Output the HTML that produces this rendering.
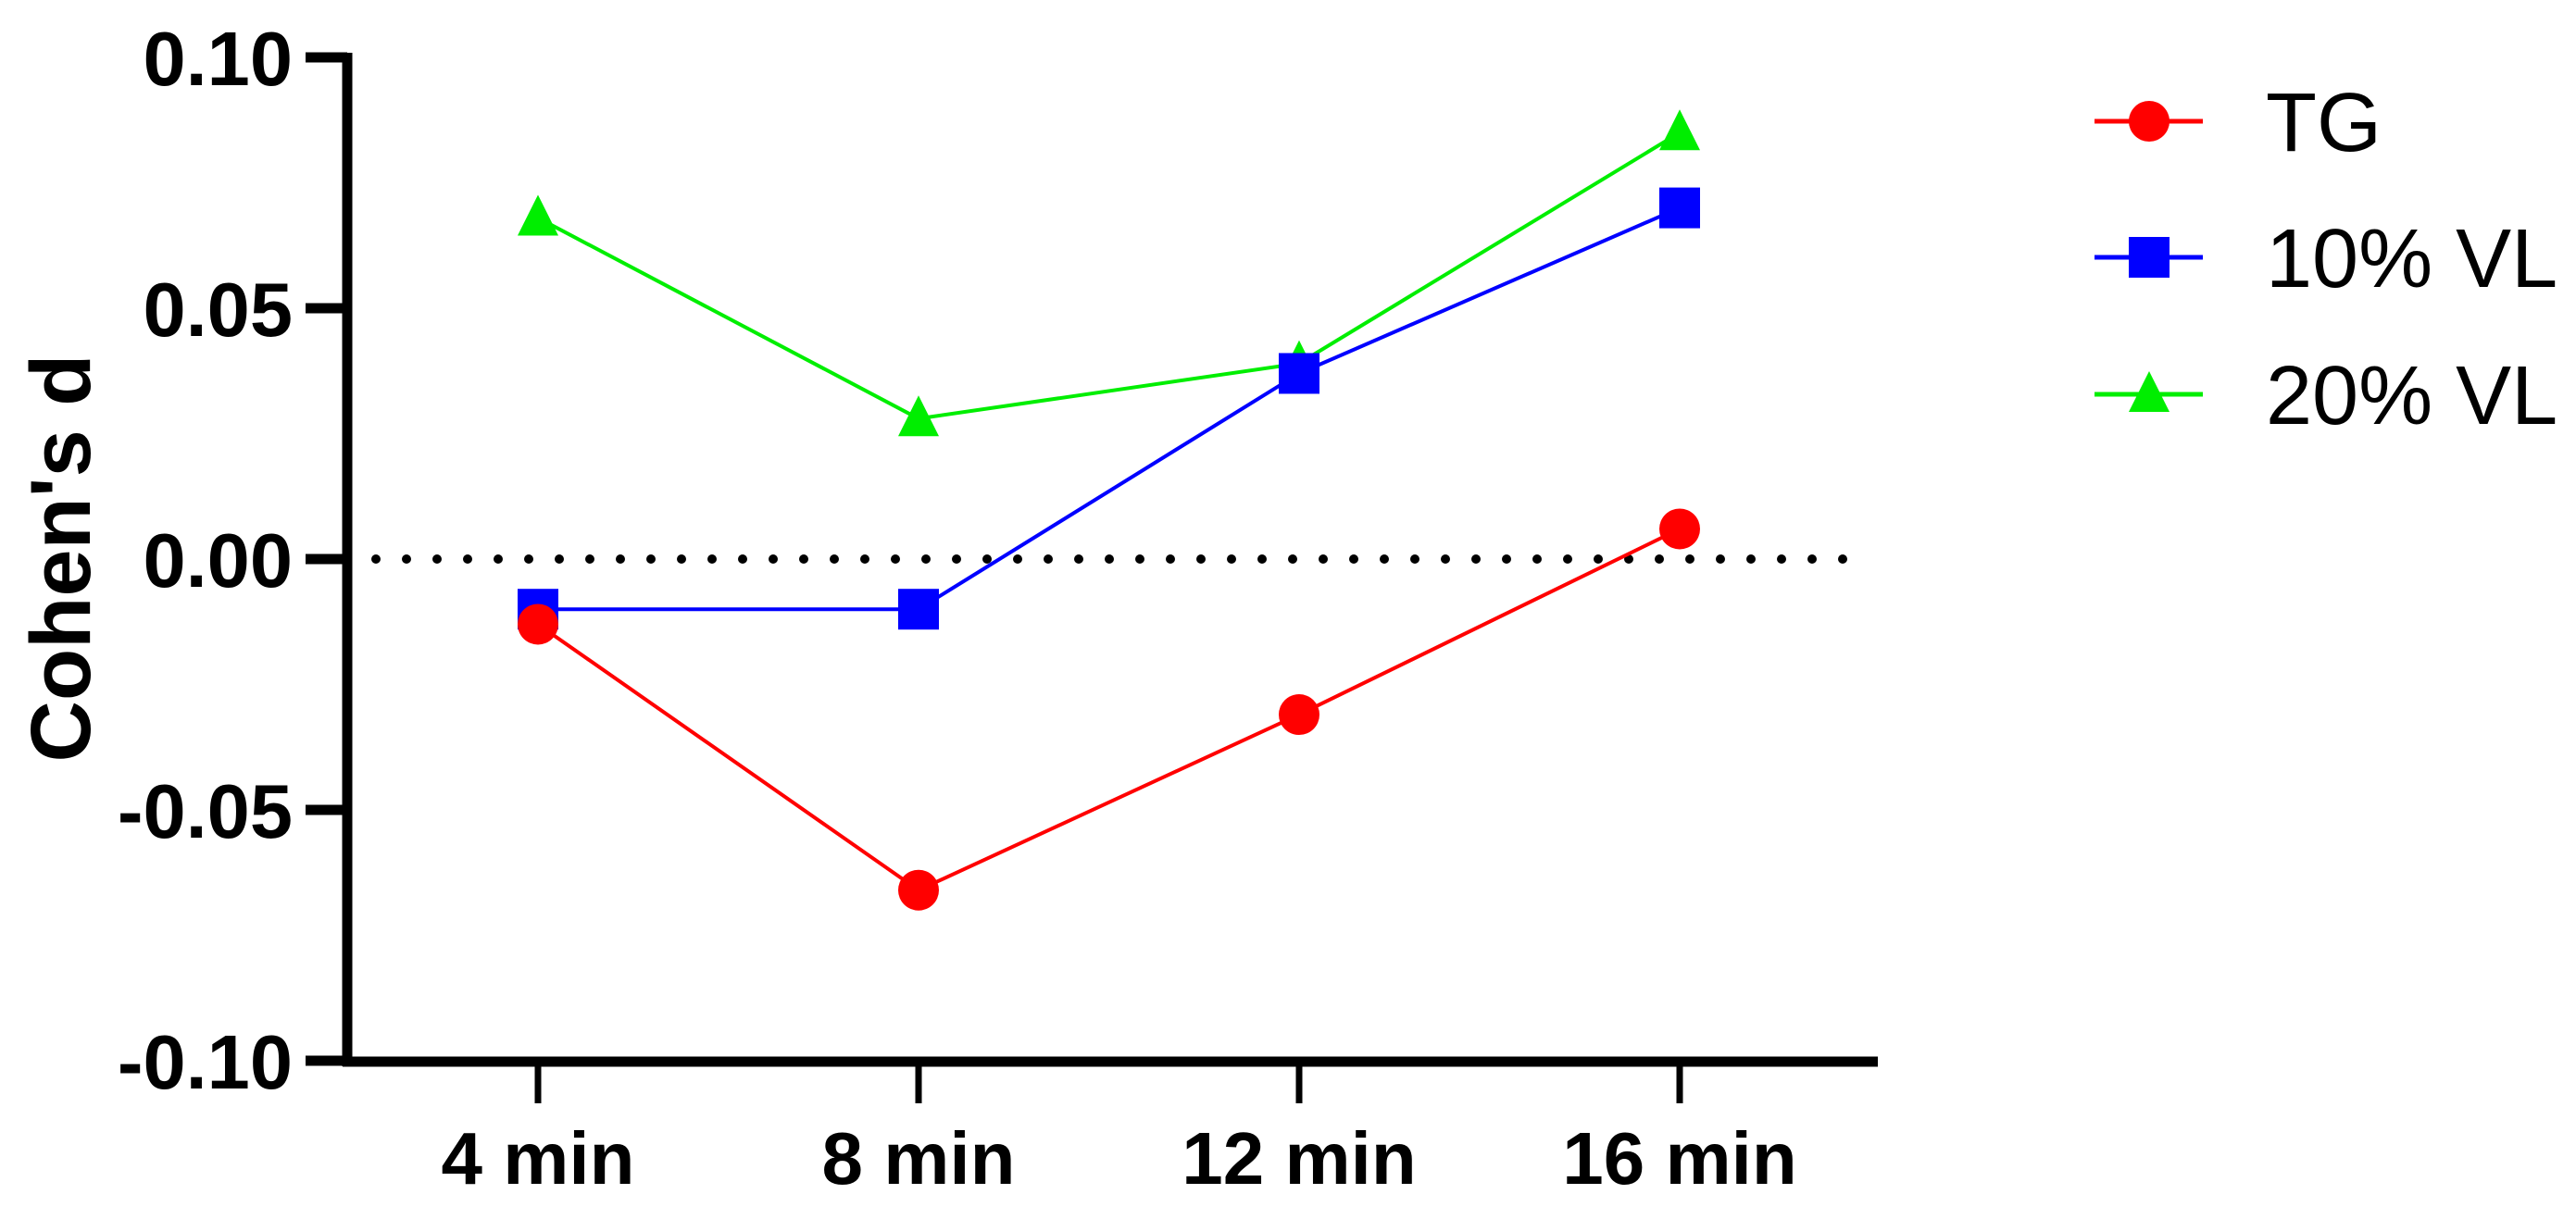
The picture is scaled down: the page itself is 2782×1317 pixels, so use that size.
<!DOCTYPE html>
<html><head><meta charset="utf-8"><style>
html,body{margin:0;padding:0;background:#fff;}
svg{display:block;font-family:"Liberation Sans",Arial,sans-serif;}
</style></head><body>
<svg id="chart" width="2782" height="1317" viewBox="0 0 2782 1317" xmlns="http://www.w3.org/2000/svg">
<g id="axes"></g>
<g id="series"></g>
<g id="legend"></g>
</svg>
<script>
const categories = ["4 min","8 min","12 min","16 min"];
const tgValues = [-0.013, -0.066, -0.031, 0.006];
const vl10Values = [-0.010, -0.010, 0.037, 0.070];
const vl20Values = [0.068, 0.028, 0.039, 0.085];
const yTicks = [0.10, 0.05, 0.00, -0.05, -0.10];
const yTickLabels = ["0.10","0.05","0.00","-0.05","-0.10"];
const seriesNames = ["TG","10% VL","20% VL"];

const NS="http://www.w3.org/2000/svg";
function mk(tag, attrs, parent){const e=document.createElementNS(NS,tag);for(const k in attrs)e.setAttribute(k,attrs[k]);parent.appendChild(e);return e;}
const x0=581, xStep=411;
function xScale(i){return x0+i*xStep;}
function yScale(v){return 604 - v*5420;}
const axes=document.getElementById('axes');
const axisX=375, axisY=1147;

let el=mk('line',{x1:axisX,y1:yScale(0.10)-5,x2:axisX,y2:axisY+5,stroke:'#000','stroke-width':11},axes);


el=mk('line',{x1:axisX-5,y1:axisY,x2:2028,y2:axisY,stroke:'#000','stroke-width':11},axes);



yTicks.forEach((v,i)=>{
  const y=yScale(v);
  let t=mk('line',{x1:330,y1:y,x2:axisX,y2:y,stroke:'#000','stroke-width':11},axes);
  
  
  let tx=mk('text',{x:316,y:y+30,'text-anchor':'end','font-size':83,'font-weight':'bold',fill:'#000'},axes);
  tx.textContent=yTickLabels[i];
  
  
});
categories.forEach((c,i)=>{
  const x=xScale(i);
  let t=mk('line',{x1:x,y1:axisY,x2:x,y2:1192,stroke:'#000','stroke-width':7},axes);
  
  
  let tx=mk('text',{x:x,y:1279,'text-anchor':'middle','font-size':80,'font-weight':'bold',fill:'#000'},axes);
  tx.textContent=c;
  
  
});
let yt=mk('text',{x:0,y:0,'text-anchor':'middle','font-size':92,'font-weight':'bold',fill:'#000',transform:'translate(97,603) rotate(-90)'},axes);
yt.textContent="Cohen's d";



let zl=mk('line',{x1:406,y1:yScale(0),x2:1994,y2:yScale(0),stroke:'#000','stroke-width':10,'stroke-linecap':'round','stroke-dasharray':'0 33'},axes);



const sg=document.getElementById('series');
function marker(type,x,y,color,parent){
  let m;
  if(type==='circle') m=mk('circle',{cx:x,cy:y,r:22,fill:color},parent);
  else if(type==='square') m=mk('rect',{x:x-22,y:y-22,width:44,height:44,fill:color},parent);
  else m=mk('polygon',{points:`${x},${y-25} ${x+22},${y+19} ${x-22},${y+19}`,fill:color},parent);
  return m;
}
const seriesDefs=[
  {name:'tg',vals:tgValues,color:'#ff0000',type:'circle'},
  {name:'vl10',vals:vl10Values,color:'#0000ff',type:'square'},
  {name:'vl20',vals:vl20Values,color:'#00ee00',type:'triangle'}
];
[2,1,0].forEach(si=>{
  const s=seriesDefs[si];
  const g=mk('g',{},sg);
  
  
  const pts=s.vals.map((v,i)=>xScale(i)+','+yScale(v)).join(' ');
  let pl=mk('polyline',{points:pts,fill:'none',stroke:s.color,'stroke-width':4},g);
  
  
  s.vals.forEach((v,i)=>{
    let m=marker(s.type,xScale(i),yScale(v),s.color,g);
    
    
  });
});

const lg=document.getElementById('legend');
const legendRows=[131,278,426];
seriesDefs.forEach((s,i)=>{
  const g=mk('g',{},lg);
  
  
  const y=legendRows[i];
  mk('line',{x1:2262,y1:y,x2:2379,y2:y,stroke:s.color,'stroke-width':5},g);
  marker(s.type,2321,y,s.color,g);
  let t=mk('text',{x:2447,y:y+32,'font-size':90,fill:'#000'},g);
  t.textContent=seriesNames[i];
  
  
});
</script>
</body></html>
